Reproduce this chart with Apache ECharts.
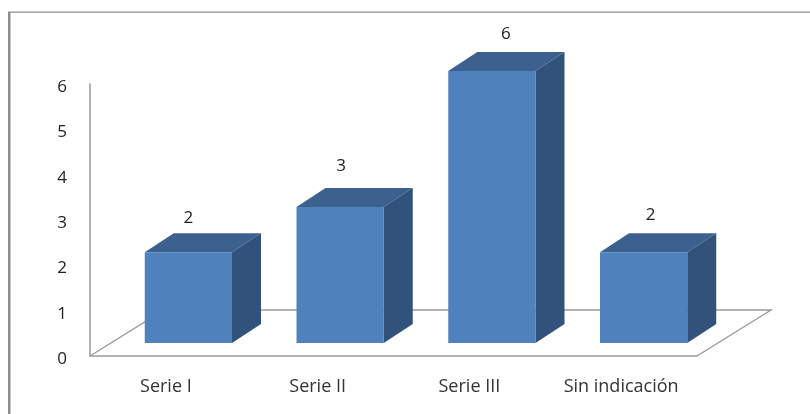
<!DOCTYPE html>
<html>
<head>
<meta charset="utf-8">
<style>
  html, body { margin: 0; padding: 0; background: #fff; }
  #chart { width: 810px; height: 414px; }
</style>
<script src="https://cdn.jsdelivr.net/npm/echarts@6/dist/echarts.min.js"></script>
</head>
<body>
<div id="chart"></div>
<script>
var categories = ['Serie I', 'Serie II', 'Serie III', 'Sin indicación'];
var seriesValues = [2, 3, 6, 2];
var yTicks = [0, 1, 2, 3, 4, 5, 6];

// fake 3D: how far the bars sit in front of the floor's corner, and their depth
var FRONT_DX = 22.5, FRONT_DY = -13;
var DEPTH_DX = 29, DEPTH_DY = -19;
var FLOOR_DX = 74, FLOOR_DY = -46;
var LABEL_FONT = '"Open Sans", sans-serif';
// the value labels are not centred the same way on every bar in the original
var labelNudgeX = [0, 1, 14, 7];
var labelNudgeY = [-15, -22, -18, -18];

var chart = echarts.init(document.getElementById('chart'));

function renderBar(params, api) {
  var i = params.dataIndex;
  var top = api.coord([api.value(0), api.value(1)]);
  var base = api.coord([api.value(0), 0]);
  var w = api.size([1, 0])[0] * 0.575;
  var x0 = top[0] - w / 2 + FRONT_DX;
  var x1 = x0 + w;
  var y0 = top[1] + FRONT_DY;
  var y1 = base[1] + FRONT_DY;
  return {
    type: 'group',
    children: [
      {
        type: 'polygon',
        shape: { points: [[x0, y0], [x1, y0], [x1 + DEPTH_DX, y0 + DEPTH_DY], [x0 + DEPTH_DX, y0 + DEPTH_DY]] },
        style: { fill: '#3d618f' }
      },
      {
        type: 'polygon',
        shape: { points: [[x1, y0], [x1 + DEPTH_DX, y0 + DEPTH_DY], [x1 + DEPTH_DX, y1 + DEPTH_DY], [x1, y1]] },
        style: { fill: '#31527a' }
      },
      {
        type: 'rect',
        shape: { x: x0, y: y0, width: w, height: y1 - y0 },
        style: { fill: '#4f81bd' }
      },
      {
        type: 'text',
        style: {
          x: (x0 + x1) / 2 + labelNudgeX[i],
          y: y0 + DEPTH_DY + labelNudgeY[i],
          text: String(api.value(1)),
          font: '17px ' + LABEL_FONT,
          fill: '#222',
          align: 'center',
          verticalAlign: 'middle'
        }
      }
    ]
  };
}

// floor of the 3D box, drawn once behind the bars
function renderFloor(params, api) {
  var g = params.coordSys;
  var left = g.x, right = g.x + g.width, bottom = g.y + g.height;
  var lineStyle = { stroke: '#9a9a9a', lineWidth: 1.4, fill: 'none' };
  return {
    type: 'polyline',
    shape: { points: [[left, bottom], [left + FLOOR_DX, bottom + FLOOR_DY], [right + FLOOR_DX, bottom + FLOOR_DY], [right, bottom]] },
    style: lineStyle
  };
}

chart.setOption({
  animation: false,
  backgroundColor: '#fff',
  graphic: [
    { type: 'rect', silent: true, shape: { x: 8, y: 12, width: 2.5, height: 402 }, style: { fill: '#8c8c8c' } },
    { type: 'rect', silent: true, shape: { x: 8, y: 11.5, width: 802, height: 1.3 }, style: { fill: '#8c8c8c' } }
  ],
  grid: { left: 90, right: 113, top: 84, bottom: 58 },
  xAxis: {
    type: 'category',
    data: categories,
    axisTick: { show: false },
    axisLine: { lineStyle: { color: '#9a9a9a', width: 1.5 } },
    axisLabel: { margin: 22, fontSize: 18, color: '#333', fontFamily: LABEL_FONT, interval: 0 }
  },
  yAxis: {
    type: 'value',
    min: yTicks[0],
    max: yTicks[yTicks.length - 1],
    interval: 1,
    splitLine: { show: false },
    axisTick: { show: false },
    axisLine: { show: true, lineStyle: { color: '#9a9a9a', width: 1.5 } },
    axisLabel: {
      margin: 23,
      formatter: '{tick|{value}}',
      rich: { tick: { fontSize: 17, color: '#222', fontFamily: LABEL_FONT, padding: [6, 0, 0, 0] } }
    }
  },
  series: [
    {
      type: 'custom',
      name: 'floor',
      silent: true,
      clip: false,
      z: 1,
      renderItem: renderFloor,
      data: [[0, 0]]
    },
    {
      type: 'custom',
      name: 'bars',
      silent: true,
      clip: false,
      z: 2,
      renderItem: renderBar,
      encode: { x: 0, y: 1 },
      data: seriesValues.map(function (v, i) { return [i, v]; })
    }
  ]
});
</script>
</body>
</html>
